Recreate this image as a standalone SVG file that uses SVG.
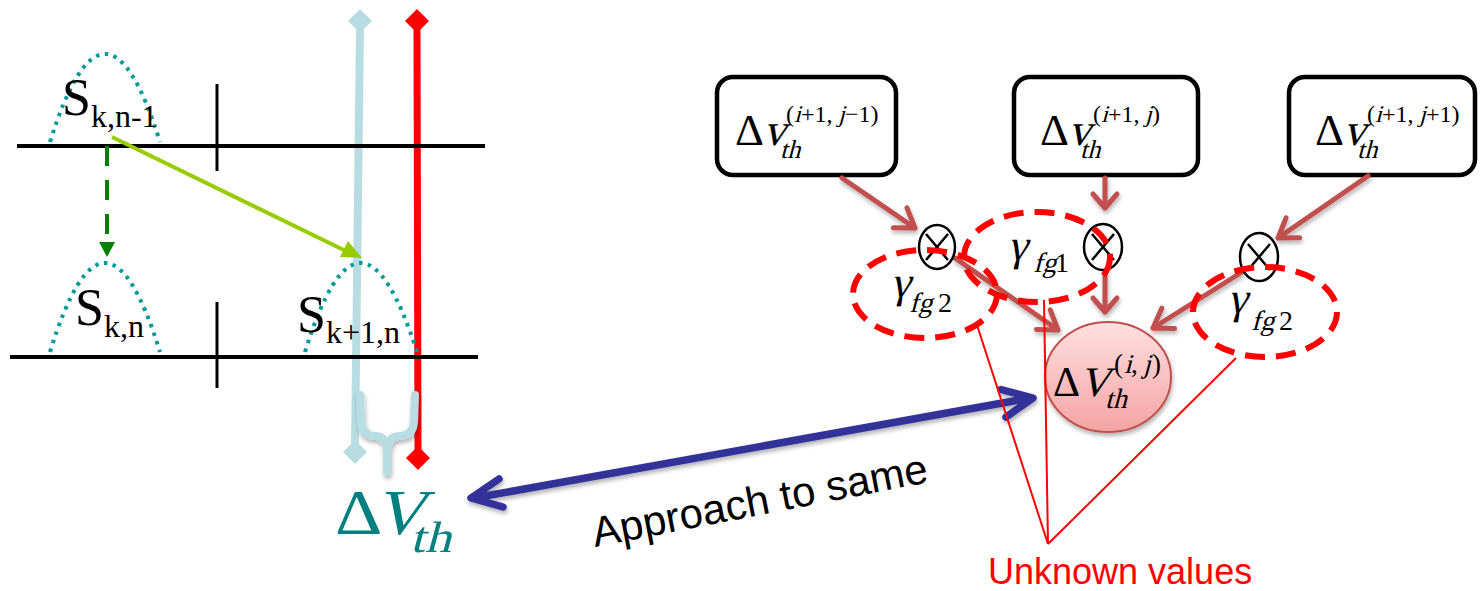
<svg xmlns="http://www.w3.org/2000/svg" width="1481" height="591" viewBox="0 0 1481 591">
<defs>
<style>
.axis{stroke:#000;stroke-width:4;fill:none}
.tick{stroke:#000;stroke-width:3;fill:none}
.bell{stroke:#009999;stroke-width:4;fill:none;stroke-dasharray:3.5 5.5}
.m{font-family:"Liberation Serif","Times New Roman",serif;fill:#000}
.sans{font-family:"Liberation Sans",Arial,sans-serif}
.box{fill:#fff;stroke:#000;stroke-width:4.5}
.brn{stroke:#c0504d;stroke-width:5;fill:none;stroke-linecap:round;stroke-linejoin:round}
.otimes{fill:none;stroke:#000;stroke-width:2.5}
.dash{fill:none;stroke:#ff0000;stroke-width:6;stroke-dasharray:20 11}
.thin{stroke:#ff0000;stroke-width:2;fill:none}
.blue{stroke:#333399;stroke-width:7.5;fill:none;stroke-linecap:round;stroke-linejoin:round}
.teal{fill:#008080}
</style>
<linearGradient id="pink" x1="0" y1="0" x2="0" y2="1">
<stop offset="0" stop-color="#ffe0e0"/>
<stop offset="1" stop-color="#f4a3a3"/>
</linearGradient>
<filter id="sh" x="-20%" y="-20%" width="140%" height="140%">
<feDropShadow dx="1" dy="3" stdDeviation="2" flood-color="#000" flood-opacity="0.3"/>
</filter>
</defs>

<g id="lightblue-marker">
<line x1="360" y1="28" x2="355" y2="446" stroke="#b7dde2" stroke-width="8"/>
<polygon points="360,9 372,21 360,33 348,21" fill="#b7dde2"/>
<polygon points="355,440 367,452 355,464 343,452" fill="#b7dde2"/>
</g>
<g id="red-marker">
<line x1="417" y1="28" x2="418" y2="452" stroke="#ff0000" stroke-width="7"/>
<polygon points="417,9 429,21 417,33 405,21" fill="#ff0000"/>
<polygon points="418,446 430,458 418,470 406,458" fill="#ff0000"/>
</g>
<g id="brace" filter="url(#sh)">
<path d="M360,395 L361,422 Q362,436 376,436 Q387,437 387,452 L387,472 M415,395 L414,422 Q413,436 399,436 Q387,437 387,452" stroke="#b7dde2" stroke-width="8" fill="none" stroke-linecap="round"/>
</g>

<g id="axes">
<line class="axis" x1="17" y1="146" x2="485" y2="146"/>
<line class="tick" x1="217" y1="84" x2="217" y2="171"/>
<line class="axis" x1="10" y1="357" x2="478" y2="357"/>
<line class="tick" x1="217" y1="302" x2="217" y2="388"/>
</g>

<g id="bell-s-k-n-1">
<path class="bell" d="M50,142 Q105,-34 160,142"/>
<text class="m" x="62" y="115" font-size="52">S<tspan font-size="32" dy="12">k,n-1</tspan></text>
</g>
<g id="bell-s-k-n">
<path class="bell" d="M50,352 Q105,174 160,352"/>
<text class="m" x="75" y="325" font-size="52">S<tspan font-size="32" dy="12">k,n</tspan></text>
</g>
<g id="bell-s-k1-n">
<path class="bell" d="M305,352 Q360,174 417,352"/>
<text class="m" x="297" y="332" font-size="52">S<tspan font-size="32" dy="11">k+1,n</tspan></text>
</g>

<g id="dvth-left">
<text class="m teal" transform="translate(335,534) scale(1.15,1)" font-size="64">Δ</text>
<text class="m teal" transform="translate(374,534) skewX(-15) scale(1.1,1)" font-size="64">V</text>
<text class="m teal" transform="translate(410,552) skewX(-15) scale(1.2,1)" font-size="44">th</text>
</g>

<g id="box1">
<rect class="box" x="717" y="77" width="179" height="98" rx="16"/>
<text class="m" x="735" y="145" font-size="45">Δ</text>
<text class="m" transform="translate(763,145) skewX(-15)" font-size="45">v</text>
<text class="m" x="786" y="122" font-size="24">(</text>
<text class="m" transform="translate(794,122) skewX(-15)" font-size="24">i</text>
<text class="m" x="801" y="122" font-size="24">+1,</text>
<text class="m" transform="translate(838,122) skewX(-15)" font-size="24">j</text>
<text class="m" x="845" y="122" font-size="24">−1)</text>
<text class="m" transform="translate(780,158) skewX(-15)" font-size="26">th</text>
</g>
<g id="box2">
<rect class="box" x="1014" y="77" width="184" height="98" rx="16"/>
<text class="m" x="1040" y="145" font-size="45">Δ</text>
<text class="m" transform="translate(1068,145) skewX(-15)" font-size="45">v</text>
<text class="m" x="1093" y="122" font-size="24">(</text>
<text class="m" transform="translate(1101,122) skewX(-15)" font-size="24">i</text>
<text class="m" x="1108" y="122" font-size="24">+1,</text>
<text class="m" transform="translate(1145,122) skewX(-15)" font-size="24">j</text>
<text class="m" x="1152" y="122" font-size="24">)</text>
<text class="m" transform="translate(1080,158) skewX(-15)" font-size="26">th</text>
</g>
<g id="box3">
<rect class="box" x="1289" y="77" width="186" height="98" rx="16"/>
<text class="m" x="1315" y="145" font-size="45">Δ</text>
<text class="m" transform="translate(1343,145) skewX(-15)" font-size="45">v</text>
<text class="m" x="1367" y="122" font-size="24">(</text>
<text class="m" transform="translate(1375,122) skewX(-15)" font-size="24">i</text>
<text class="m" x="1382" y="122" font-size="24">+1,</text>
<text class="m" transform="translate(1419,122) skewX(-15)" font-size="24">j</text>
<text class="m" x="1426" y="122" font-size="24">+1)</text>
<text class="m" transform="translate(1357,158) skewX(-15)" font-size="26">th</text>
</g>

<g id="connectors">
<line x1="112" y1="137" x2="352" y2="254" stroke="#99cc00" stroke-width="4"/>
<polygon points="362,258 340,257 348,241" fill="#99cc00"/>
<line x1="107" y1="146" x2="107" y2="244" stroke="#008000" stroke-width="4" stroke-dasharray="20 14"/>
<polygon points="99,242 115,242 107,257" fill="#008000"/>
<g filter="url(#sh)">
<path class="brn" d="M842,178 L915,228 M893.4,227.7 L915,228 L907,207.9"/>
<path class="brn" d="M1105,178 L1105,208 M1093,194 L1105,208 L1117,194"/>
<path class="brn" d="M1368,176 L1278,238 M1299.6,237.7 L1278,238 L1286,217.9"/>
<path class="brn" d="M955,258 L1058,330 M1036.4,329.5 L1058,330 L1050.2,309.9"/>
<path class="brn" d="M1105,272 L1105,312 M1093,298 L1105,312 L1117,298"/>
<path class="brn" d="M1242,272 L1153,328 M1174.6,328.6 L1153,328 L1161.8,308.2"/>
</g>
<g filter="url(#sh)">
<path class="blue" d="M474,498 L1030,398 M1001,389.5 L1033,398 L1006,417 M499,479 L471,498 L503,507"/>
</g>
</g>

<g id="otimes1">
<ellipse class="otimes" cx="937" cy="247" rx="18" ry="22"/>
<path class="otimes" d="M926,234 L948,260 M948,234 L926,260"/>
</g>
<g id="otimes2">
<ellipse class="otimes" cx="1103" cy="247" rx="19" ry="23"/>
<path class="otimes" d="M1092,234 L1114,260 M1114,234 L1092,260"/>
</g>
<g id="otimes3">
<ellipse class="otimes" cx="1259" cy="257" rx="19" ry="24"/>
<path class="otimes" d="M1248,244 L1270,270 M1270,244 L1248,270"/>
</g>

<g id="gamma-left">
<ellipse class="dash" cx="925" cy="294" rx="72" ry="44"/>
<text class="m" transform="translate(891,297) skewX(-12)" font-size="44">γ</text>
<text class="m" transform="translate(909,312) skewX(-15)" font-size="28">fg</text>
<text class="m" x="938" y="312" font-size="28">2</text>
</g>
<g id="gamma-mid">
<ellipse class="dash" cx="1037" cy="257" rx="73" ry="45"/>
<text class="m" transform="translate(1008,260) skewX(-12)" font-size="44">γ</text>
<text class="m" transform="translate(1033,272) skewX(-15)" font-size="28">fg</text>
<text class="m" x="1055" y="272" font-size="28">1</text>
</g>
<g id="gamma-right">
<ellipse class="dash" cx="1265" cy="312" rx="72" ry="45"/>
<text class="m" transform="translate(1228,313) skewX(-12)" font-size="44">γ</text>
<text class="m" transform="translate(1251,330) skewX(-15)" font-size="28">fg</text>
<text class="m" x="1279" y="330" font-size="28">2</text>
</g>

<g id="dvth-center">
<ellipse cx="1108" cy="377" rx="63" ry="55" fill="url(#pink)" stroke="#c0504d" stroke-width="2" filter="url(#sh)"/>
<text class="m" x="1053" y="396" font-size="42">Δ</text>
<text class="m" transform="translate(1079,396) skewX(-15)" font-size="42">V</text>
<text class="m" x="1114" y="373" font-size="27">(</text>
<text class="m" transform="translate(1124,373) skewX(-15)" font-size="27">i</text>
<text class="m" x="1131" y="373" font-size="27">,</text>
<text class="m" transform="translate(1143,373) skewX(-15)" font-size="27">j</text>
<text class="m" x="1152" y="373" font-size="27">)</text>
<text class="m" transform="translate(1105,408) skewX(-15)" font-size="28">th</text>
</g>

<g id="unknown-lines">
<line class="thin" x1="977" y1="325" x2="1048" y2="544"/>
<line class="thin" x1="1044" y1="300" x2="1048" y2="544"/>
<line class="thin" x1="1236" y1="358" x2="1048" y2="544"/>
</g>

<g id="labels">
<text class="sans" x="595" y="547" font-size="42" transform="rotate(-11 595 547)">Approach to same</text>
<text class="sans" x="988" y="584" font-size="36" fill="#ff0000">Unknown values</text>
</g>
</svg>
